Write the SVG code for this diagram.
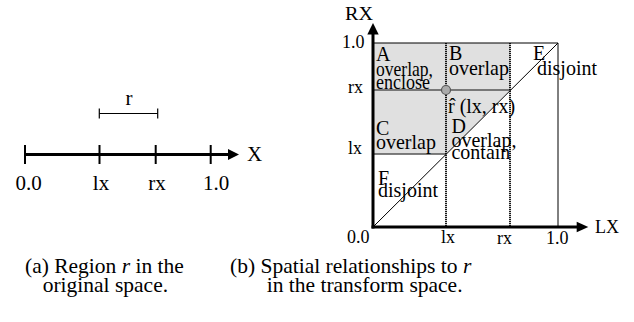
<svg xmlns="http://www.w3.org/2000/svg" width="634" height="322" viewBox="0 0 634 322">
<style>
text { font-family: "Liberation Serif", "Times New Roman", serif; fill: #000; }
.lbl { font-size: 21px; }
.ax { font-size: 18px; }
.reg { font-size: 20px; }
.cap { font-size: 21.5px; }
.thick { stroke: #000; stroke-width: 3; fill: none; }
.tick { stroke: #000; stroke-width: 2; }
.thin { stroke: #000; stroke-width: 1; fill: none; }
.grid { stroke: #555; stroke-width: 1.5; }
.dot { stroke: #000; stroke-width: 1.8; stroke-dasharray: 1.2 0.8; }
</style>
<rect width="634" height="322" fill="#fff"/>

<!-- (a) original space -->
<g id="axis-a">
  <line class="thick" x1="25" y1="154.5" x2="229" y2="154.5"/>
  <polygon points="239,154.5 228,149 228,160" fill="#000"/>
  <line class="tick" x1="25" y1="145" x2="25" y2="164"/>
  <line class="tick" x1="99.5" y1="145" x2="99.5" y2="164"/>
  <line class="tick" x1="155.7" y1="145" x2="155.7" y2="164"/>
  <line class="tick" x1="210.7" y1="145" x2="210.7" y2="164"/>
  <text class="lbl" x="247" y="161">X</text>
  <text class="lbl" x="28.5" y="190" text-anchor="middle">0.0</text>
  <text class="lbl" x="101" y="190" text-anchor="middle">lx</text>
  <text class="lbl" x="157" y="190" text-anchor="middle">rx</text>
  <text class="lbl" x="216" y="190" text-anchor="middle">1.0</text>
</g>
<g id="region-r">
  <line stroke="#000" stroke-width="1.2" x1="99.3" y1="113.5" x2="157.7" y2="113.5"/>
  <line stroke="#000" stroke-width="1.2" x1="99.3" y1="108.5" x2="99.3" y2="118.5"/>
  <line stroke="#000" stroke-width="1.2" x1="157.7" y1="108.5" x2="157.7" y2="118.5"/>
  <text class="lbl" x="129" y="104.5" text-anchor="middle">r</text>
</g>
<g id="caption-a">
  <text class="cap" x="25" y="273">(a) Region <tspan font-style="italic">r</tspan> in the</text>
  <text class="cap" x="42.7" y="292">original space.</text>
</g>

<!-- (b) transform space -->
<g id="shaded-region">
  <polygon points="373,43 510,43 510,90 446,154 373,154" fill="#e0e0e0"/>
</g>
<g id="connectors">
  <line class="thin" x1="373" y1="43" x2="558" y2="43"/>
  <line class="thin" x1="558" y1="43" x2="558" y2="227"/>
  <line class="thin" x1="373" y1="227" x2="558" y2="43"/>
  <line class="grid" x1="373" y1="90" x2="510" y2="90"/>
  <line class="grid" x1="373" y1="154" x2="446" y2="154"/>
  <line class="dot" x1="446" y1="43" x2="446" y2="227"/>
  <line class="dot" x1="510" y1="43" x2="510" y2="227"/>
</g>
<g id="axes-b">
  <line class="thick" x1="373" y1="228.5" x2="373" y2="33"/>
  <polygon points="373,23 367.3,34.5 378.7,34.5" fill="#000"/>
  <line class="thick" x1="371.5" y1="227" x2="578" y2="227"/>
  <polygon points="588.3,227 576.7,221.7 576.7,232.3" fill="#000"/>
  <text class="ax" x="345" y="20" textLength="28" lengthAdjust="spacingAndGlyphs">RX</text>
  <text class="ax" x="342" y="48">1.0</text>
  <text class="ax" x="348" y="93">rx</text>
  <text class="ax" x="348" y="154">lx</text>
  <text class="ax" x="347" y="243">0.0</text>
  <text class="ax" x="441" y="243">lx</text>
  <text class="ax" x="497" y="244">rx</text>
  <text class="ax" x="546" y="244">1.0</text>
  <text class="ax" x="595" y="233">LX</text>
</g>
<g id="point-r">
  <circle cx="446" cy="90" r="4.5" fill="#aaa" stroke="#555" stroke-width="1.2"/>
  <text class="reg" transform="translate(448,113) scale(1,1.1)">r̂ (lx, rx)</text>
</g>
<g id="region-A">
  <text class="reg" transform="translate(376,61) scale(1,1.1)">A</text>
  <text class="reg" transform="translate(376,76) scale(1,1.1)" textLength="57" lengthAdjust="spacingAndGlyphs">overlap,</text>
  <text class="reg" transform="translate(376,88.5) scale(1,1.1)" textLength="54" lengthAdjust="spacingAndGlyphs">enclose</text>
</g>
<g id="region-B">
  <text class="reg" transform="translate(449,60) scale(1,1.1)">B</text>
  <text class="reg" transform="translate(449,75) scale(1,1.1)">overlap</text>
</g>
<g id="region-E">
  <text class="reg" transform="translate(533,60) scale(1,1.1)">E</text>
  <text class="reg" transform="translate(537,75) scale(1,1.1)">disjoint</text>
</g>
<g id="region-C">
  <text class="reg" transform="translate(376,135) scale(1,1.1)">C</text>
  <text class="reg" transform="translate(376,149) scale(1,1.1)">overlap</text>
</g>
<g id="region-D">
  <text class="reg" transform="translate(451.5,133) scale(1,1.1)">D</text>
  <text class="reg" transform="translate(451.5,146.5) scale(1,1.1)">overlap,</text>
  <text class="reg" transform="translate(451.5,159) scale(1,1.1)">contain</text>
</g>
<g id="region-F">
  <text class="reg" transform="translate(378,185) scale(1,1.1)">F</text>
  <text class="reg" transform="translate(378,197) scale(1,1.1)">disjoint</text>
</g>
<g id="caption-b">
  <text class="cap" x="230" y="273">(b) Spatial relationships to <tspan font-style="italic">r</tspan></text>
  <text class="cap" x="266.7" y="292">in the transform space.</text>
</g>
</svg>
